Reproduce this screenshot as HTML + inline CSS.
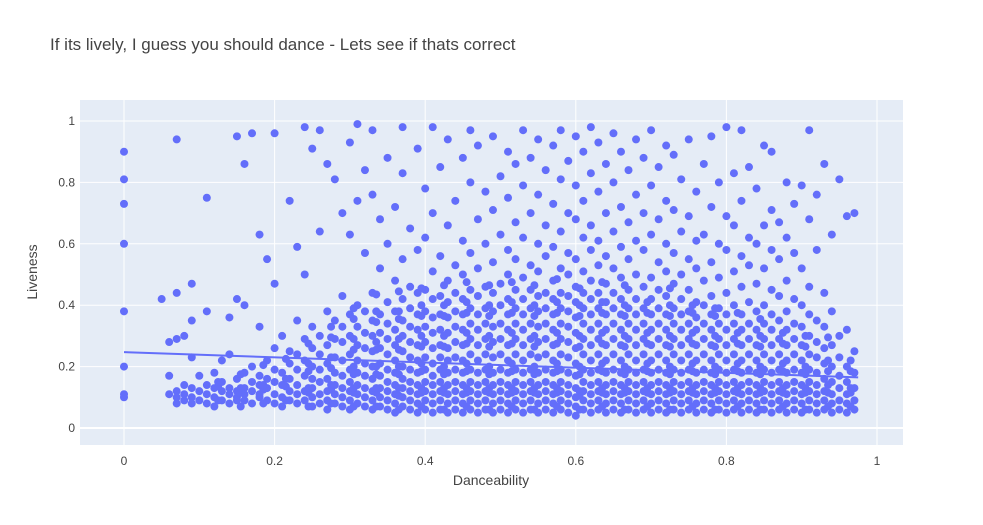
<!DOCTYPE html>
<html>
<head>
<meta charset="utf-8">
<style>
  html,body{margin:0;padding:0;background:#fff;}
  svg{display:block;font-family:"Liberation Sans",Arial,sans-serif;}
</style>
</head>
<body>
<svg id="chart" width="983" height="525" viewBox="0 0 983 525">
  <rect x="0" y="0" width="983" height="525" fill="#fff"/>
  <text x="50" y="50" font-size="17" fill="#444">If its lively, I guess you should dance - Lets see if thats correct</text>
  <rect x="80" y="100" width="823" height="345" fill="#e5ecf6"/>
  <g id="grid"></g>
  <g id="points"></g>
  <g id="trend"></g>
  <g id="xticks"></g>
  <g id="yticks"></g>
  <text x="491" y="485" font-size="14" fill="#444" text-anchor="middle">Danceability</text>
  <text x="37" y="272" font-size="14" fill="#444" text-anchor="middle" transform="rotate(-90 37 272)">Liveness</text>
</svg>
<script>
// Danceability bins (hundredths) and liveness values (hundredths) observed per bin
const danceBins=[0,5,6,7,8,9,10,11,12,13,14,15,16,17,18,19,20,21,22,23,24,25,26,27,28,29,30,31,32,33,34,35,36,37,38,39,40,41,42,43,44,45,46,47,48,49,50,51,52,53,54,55,56,57,58,59,60,61,62,63,64,65,66,67,68,69,70,71,72,73,74,75,76,77,78,79,80,81,82,83,84,85,86,87,88,89,90,91,92,93,94,95,96,97];
const livenessByBin=[
[10,11,20,38,60,73,81,90],[42],[11,17,28],[8,10,12,29,44,94],[9,11,14,30],[10,13,8,35,47,23],[9,12,17],[8,11,14,75,38],[10,13,18,7],[9,12,15,22],
[8,11,13,36,24],[10,12,16,9,95,42],[9,13,11,18,86,40],[8,12,15,20,96],[10,11,14,17,63,33],[9,13,16,22,55],[8,11,15,19,26,96,47],[7,10,14,18,30],[9,12,16,21,25,74],[8,11,14,19,24,35,59],
[9,12,17,22,29,98,50],[7,10,13,16,20,26,33,91],[8,11,15,19,24,30,64,97],[6,9,12,16,21,27,38,86],[8,11,14,18,23,29,35,81],[7,10,13,17,22,28,33,43,70],[6,9,12,15,19,24,30,37,63,93],[8,11,14,18,22,27,33,40,74,99],[7,10,13,17,21,26,31,38,57,84],[6,9,12,16,20,25,30,35,44,76,97],
[7,10,13,17,21,26,31,37,52,68],[6,9,12,15,19,24,29,34,41,60,88],[5,8,11,14,18,22,27,32,38,48,72],[7,10,13,16,20,25,30,35,42,55,83,98],[6,9,12,15,19,23,28,33,39,46,65],[5,8,11,14,18,22,27,32,37,44,58,91],[6,9,12,15,19,23,28,33,38,45,62,78],[5,8,11,14,17,21,26,31,36,42,51,70,98],[6,9,12,15,19,23,27,32,37,43,56,85],[5,8,11,14,18,22,26,31,36,41,48,66,94],
[6,9,12,15,19,23,28,33,38,44,53,74],[5,8,11,14,18,22,27,32,37,42,50,61,88],[6,9,12,15,19,24,29,34,39,45,57,80,97],[5,8,11,14,18,22,27,32,37,43,52,68,92],[6,9,12,15,19,24,29,34,39,46,60,77],[5,8,11,14,18,23,28,33,38,44,54,71,95],[6,9,12,15,19,24,29,34,40,47,63,82],[5,8,11,14,18,22,27,32,37,42,50,58,75,90],[6,9,12,15,19,24,29,34,39,45,55,67,86],[5,8,11,14,18,22,27,32,37,42,49,62,79,97],
[6,9,12,15,19,24,29,34,39,45,53,70,88],[5,8,11,14,18,23,28,33,38,43,51,60,76,94],[6,9,12,15,19,24,29,34,39,44,56,66,84],[5,8,11,14,18,22,27,32,37,42,48,59,73,92],[6,9,12,15,19,24,29,34,39,44,52,64,81,97],[5,8,11,14,18,23,28,33,38,43,50,57,70,87],[4,7,10,13,17,21,26,31,36,41,46,55,68,79,95],[6,9,12,15,19,24,29,34,39,44,51,62,74,90],[5,8,11,14,18,22,27,32,37,42,48,58,66,83,98],[6,9,12,15,19,24,29,34,39,44,53,61,77,93],
[5,8,11,14,18,22,27,32,37,41,47,56,70,86],[6,9,12,15,19,24,29,34,39,44,52,64,80,96],[5,8,11,14,18,22,27,32,37,42,49,59,72,90],[6,9,12,15,19,24,29,34,39,45,55,67,84],[5,8,11,14,18,22,27,32,37,42,50,61,76,94],[6,9,12,15,19,24,29,34,39,46,58,70,88],[5,8,11,14,18,22,27,32,37,42,49,63,79,97],[6,9,12,15,19,24,29,34,39,45,54,68,85],[5,8,11,14,18,22,27,32,37,43,51,60,74,92],[6,9,12,15,19,24,29,34,39,47,57,71,89],
[5,8,11,14,18,22,27,32,37,42,50,64,81],[6,9,12,15,19,24,29,34,38,45,55,69,94],[5,8,11,14,18,22,27,32,36,41,52,61,77],[6,9,12,15,19,24,29,34,40,48,63,86],[5,8,11,14,18,22,27,32,37,43,54,72,95],[6,9,12,15,19,24,29,34,39,49,60,80],[5,8,11,14,18,22,27,32,37,44,58,69,98],[6,9,12,15,19,24,29,34,40,51,66,83],[5,8,11,14,18,22,27,32,37,46,56,74,97],[6,9,12,15,19,24,29,34,41,53,62,85],
[5,8,11,14,18,22,27,32,38,47,60,78],[6,9,12,15,19,24,29,34,40,52,66,92],[5,8,11,14,18,22,27,32,37,45,58,71,90],[6,9,12,15,19,24,29,35,43,55,67],[5,8,11,14,18,22,27,32,38,48,62,80],[6,9,12,15,19,24,29,34,42,57,73],[5,8,11,14,18,22,27,33,40,52,79],[6,9,12,15,19,24,30,37,46,68,97],[5,8,11,14,18,23,28,35,58,76],[6,9,12,16,21,26,33,44,86],
[5,8,11,15,20,27,38,63],[6,9,13,17,23,30,81],[5,8,11,15,20,32,69],[6,9,13,18,25,70]
];
// Additional dense-band observations at half-step danceability (thousandths)
const danceBinsDense=[125,155,185,215,245,275,305,335,365,395,425,455,485,515,545,575,605,635,665,695,725,755,785,815,845,875,905,935,965];
const livenessDense=[
[9,12,15],[7,10,13,16],[8,11,14,19],[9,12,16,21],[7,10,13,17,21,26],[8,11,14,18,23,28,33],[7,10,13,16,20,24,29,34,39],[7,10,13,16,20,24,28,33,38,42],
[6,9,13,16,20,24,29,34,38,43],[7,10,13,17,21,25,30,35,40,44],[6,10,13,16,20,25,30,35,40,45],[7,10,13,17,21,26,31,36,41,46],[6,10,13,16,20,25,30,35,40,45],[7,10,13,17,21,26,31,36,41,46],
[6,10,13,16,20,25,30,35,40,45],[7,10,13,17,21,26,31,36,41,47],[6,9,12,16,20,25,30,35,40,44],[7,10,13,17,21,26,31,36,41,46],[6,10,13,16,20,25,30,35,40,45],[7,10,13,17,21,26,31,36,41],
[6,10,13,16,20,25,30,35,40,44],[7,10,13,17,21,26,31,36,40],[6,10,13,16,20,25,30,35,39],[7,10,13,17,21,26,31,36],[6,10,13,16,20,25,30,34],[7,10,13,17,21,26,31],[6,10,13,16,20,25,30],[7,10,14,17,22,28],[7,10,13,17,22]
];
const trendX=[0,0.975];
const trendY=[0.247,0.165];
const xTicks=[0,0.2,0.4,0.6,0.8,1];
const xTickLabels=["0","0.2","0.4","0.6","0.8","1"];
const yTicks=[0,0.2,0.4,0.6,0.8,1];
const yTickLabels=["0","0.2","0.4","0.6","0.8","1"];

const NS="http://www.w3.org/2000/svg";
const X0=124, XS=753, Y0=428, YS=307;
function xPos(v){return X0+v*XS;}
function yPos(v){return Y0-v*YS;}
function mk(tag,attrs,parent){const e=document.createElementNS(NS,tag);for(const k in attrs)e.setAttribute(k,attrs[k]);parent.appendChild(e);return e;}

const grid=document.getElementById('grid');
xTicks.forEach((t,i)=>{
  const l=mk('line',{x1:xPos(t),x2:xPos(t),y1:100,y2:445,stroke:'#fff','stroke-width':1},grid);
  
  
  const tx=mk('text',{x:xPos(t),y:465,'font-size':12,fill:'#444','text-anchor':'middle'},document.getElementById('xticks'));
  tx.textContent=xTickLabels[i];
  
  
});
yTicks.forEach((t,i)=>{
  const l=mk('line',{x1:80,x2:903,y1:yPos(t),y2:yPos(t),stroke:'#fff','stroke-width':t===0?2:1},grid);
  
  
  const tx=mk('text',{x:75,y:yPos(t)+4,'font-size':12,fill:'#444','text-anchor':'end'},document.getElementById('yticks'));
  tx.textContent=yTickLabels[i];
  
  
});
const pts=document.getElementById('points');
function dot(x,y){
  const c=mk('circle',{cx:xPos(x),cy:yPos(y),r:4,fill:'#636efa'},pts);
  
  
}
danceBins.forEach((b,i)=>{ livenessByBin[i].forEach(v=>dot(b/100,v/100)); });
danceBinsDense.forEach((b,i)=>{ livenessDense[i].forEach((v,j)=>dot(b/1000,(v+(j%2)*1.5)/100)); });
const tl=mk('line',{x1:xPos(trendX[0]),y1:yPos(trendY[0]),x2:xPos(trendX[1]),y2:yPos(trendY[1]),stroke:'#636efa','stroke-width':2},document.getElementById('trend'));


</script>
</body>
</html>
